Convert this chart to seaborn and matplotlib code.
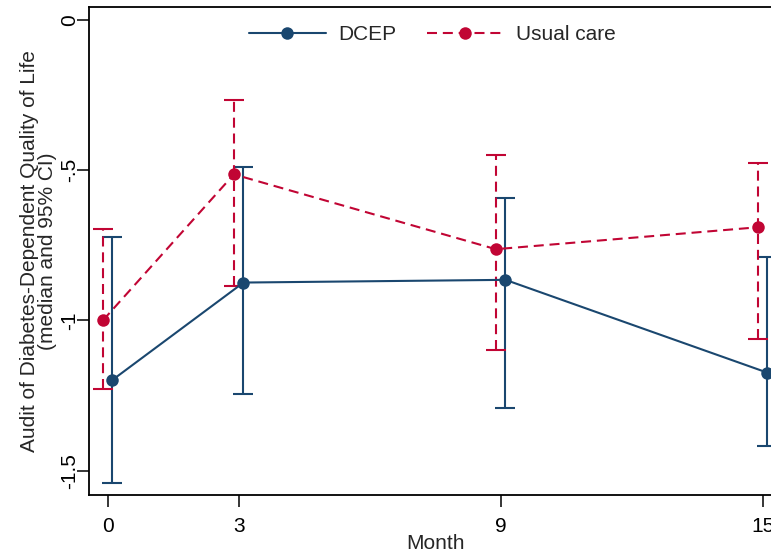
import numpy as np
import pandas as pd
import matplotlib
matplotlib.use("Agg")
import matplotlib.pyplot as plt
import seaborn as sns

# ----------------------------------------------------------------------------
# Data: median and 95% CI per visit
# ----------------------------------------------------------------------------
months = [0, 3, 9, 15]
groups = ["DCEP", "Usual care"]

dcep_median = [-1.198, -0.874, -0.865, -1.174]
dcep_lo = [-1.542, -1.245, -1.292, -1.418]
dcep_hi = [-0.723, -0.488, -0.591, -0.790]

usual_median = [-1.000, -0.514, -0.763, -0.690]
usual_lo = [-1.228, -0.884, -1.098, -1.063]
usual_hi = [-0.696, -0.266, -0.449, -0.477]

y_ticks = [0, -0.5, -1, -1.5]
y_tick_labels = ["0", "-.5", "-1", "-1.5"]

# ----------------------------------------------------------------------------
# Styling
# ----------------------------------------------------------------------------
sns.set_style("ticks")
plt.rcParams["font.family"] = ["Liberation Sans", "DejaVu Sans"]

colors = {"DCEP": "#1a476f", "Usual care": "#c10534"}
offsets = {"DCEP": 0.11, "Usual care": -0.11}   # small dodge, as in Stata
dash = (4.8, 2.8)
fs = 15

df = pd.DataFrame({
    "month": months * 2,
    "group": ["DCEP"] * 4 + ["Usual care"] * 4,
    "median": dcep_median + usual_median,
    "lo": dcep_lo + usual_lo,
    "hi": dcep_hi + usual_hi,
})
df["xpos"] = df["month"] + df["group"].map(offsets)

fig = plt.figure(figsize=(7.71, 5.52), dpi=100)
ax = fig.add_axes([89.3 / 771, 57 / 552, 693 / 771, 488.3 / 552])

# Error bars (95% CI)
for g in groups:
    sub = df[df["group"] == g]
    eb = ax.errorbar(sub["xpos"], sub["median"],
                     yerr=[sub["median"] - sub["lo"], sub["hi"] - sub["median"]],
                     fmt="none", ecolor=colors[g], elinewidth=1.5,
                     capsize=7, capthick=1.5, zorder=2)
    if g == "Usual care":
        eb.lines[2][0].set_linestyle((0, dash))

# Median lines with markers
sns.lineplot(data=df, x="xpos", y="median", hue="group", style="group",
             hue_order=groups, style_order=groups,
             palette=colors, dashes={"DCEP": "", "Usual care": dash},
             markers={"DCEP": "o", "Usual care": "o"},
             markersize=9, markeredgewidth=0, linewidth=1.5,
             ax=ax, zorder=3)

ax.set_xlim(-0.421, 15.45)
ax.set_ylim(-1.581, 0.044)
ax.set_xticks(months)
ax.set_xticklabels([str(m) for m in months])
ax.set_yticks(y_ticks)
ax.set_yticklabels(y_tick_labels, rotation=90, va="center")

ax.tick_params(axis="both", length=8.5, width=1.1, labelsize=fs,
               colors="black")
ax.tick_params(axis="x", pad=7)
ax.tick_params(axis="y", pad=-1.5)
for s in ax.spines.values():
    s.set_linewidth(1.3)
    s.set_color("black")

ax.set_xlabel("Month", fontsize=fs, labelpad=-1)
ax.set_ylabel("Audit of Diabetes-Dependent Quality of Life\n(median and 95% CI)",
              fontsize=fs, linespacing=0.9)
ax.yaxis.set_label_coords(-0.047, 0.5)

handles, labels = ax.get_legend_handles_labels()
ax.legend(handles, labels, loc="upper center", bbox_to_anchor=(0.495, 1.0),
          ncol=2, frameon=False, fontsize=fs, handlelength=3.7,
          columnspacing=1.45, handletextpad=0.6, borderaxespad=0.5)

fig.savefig("out.png", dpi=100)
